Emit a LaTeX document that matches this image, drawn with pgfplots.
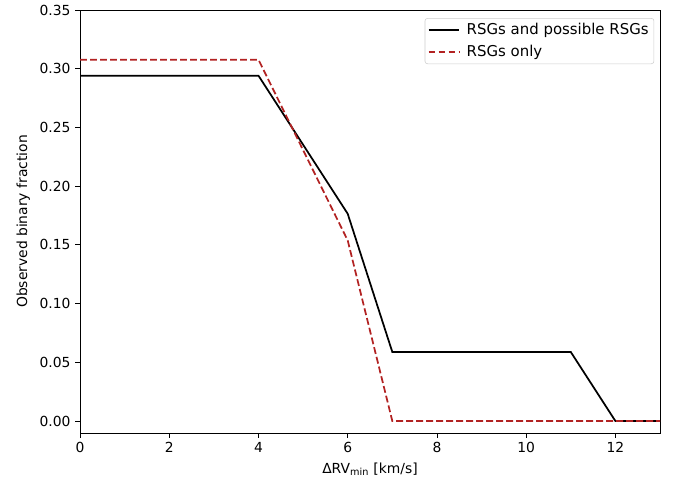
\documentclass[border=0pt]{standalone}
\usepackage{fontspec}
\setmainfont{DejaVu Sans}
\usepackage{pgfplots}
\pgfplotsset{compat=1.18}
\definecolor{fb}{HTML}{B22222}
\begin{document}
\fontsize{10.4pt}{12.5pt}\selectfont
\begin{tikzpicture}
\begin{axis}[
  scale only axis,
  width=435pt, height=317.25pt,
  xmin=0, xmax=13, ymin=-0.0102, ymax=0.35,
  xtick={0,2,4,6,8,10,12},
  ytick={0,0.05,0.1,0.15,0.2,0.25,0.3,0.35},
  tick align=outside,
  xtick pos=bottom, ytick pos=left,
  major tick length=3.5pt,
  tick style={black, line width=0.6pt},
  axis line style={line width=0.6pt},
  /pgf/number format/assume math mode=true,
  yticklabel style={/pgf/number format/fixed, /pgf/number format/precision=2, /pgf/number format/fixed zerofill},
  xticklabel style={/pgf/number format/fixed},
  scaled y ticks=false,
  xlabel={ΔRV\textsubscript{min} [km/s]},
  ylabel={Observed binary fraction},
  legend style={at={(0.99,0.981)}, anchor=north east, draw=black!20, rounded corners=2pt, font=\fontsize{11.2pt}{13pt}\selectfont, row sep=2pt, column sep=3pt, inner xsep=2pt, inner ysep=2pt},
  legend cell align=left,
  legend image code/.code={\draw[mark repeat=2,mark phase=2,#1] plot coordinates {(0pt,0pt) (11.5pt,0pt) (23pt,0pt)};},
  legend image post style={line width=1.3pt},
  clip=false,
]
\addplot[black, line width=1.3pt] coordinates {(0,0.2941) (4,0.2941) (6,0.1765) (7,0.0588) (11,0.0588) (12,0) (13,0)};
\addlegendentry{RSGs and possible RSGs}
\addplot[fb, line width=1.3pt, dash pattern=on 5.2pt off 2.3pt] coordinates {(0,0.3077) (4,0.3077) (6,0.1538) (7,0) (13,0)};
\addlegendentry{RSGs only}
\end{axis}
\path (current axis.south west) ++(-60pt,-38.25pt) rectangle ++(505.5pt,363pt);
\end{tikzpicture}
\end{document}
